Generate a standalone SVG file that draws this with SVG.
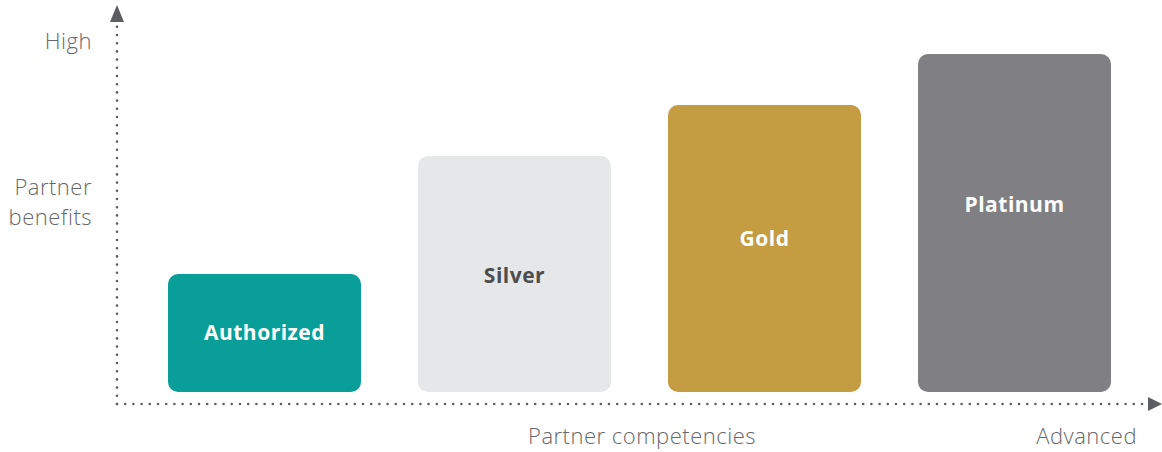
<svg xmlns="http://www.w3.org/2000/svg" width="1162" height="452" viewBox="0 0 1162 452">
<style>
.axis{fill:none;stroke:#5d5e61;stroke-width:2.6;stroke-linecap:round;stroke-dasharray:0 8.2}
.lbl{font-family:"Open Sans",Lato,sans-serif;font-weight:300;font-size:22px;letter-spacing:0.5px;fill:#67686b}
.name{font-family:"Open Sans",Lato,sans-serif;font-weight:700;font-size:21px;letter-spacing:0.5px;text-anchor:middle}
</style>
<g id="connectors">
<line class="axis" x1="117" y1="404" x2="117" y2="24"/>
<path d="M110,22 L117,5 L124,22 Z" fill="#5d5e61"/>
<line class="axis" x1="117" y1="404" x2="1146" y2="404"/>
<path d="M1148,397 L1162,404 L1148,411 Z" fill="#5d5e61"/>
</g>
<g id="labels">
<text class="lbl" x="92" y="49" text-anchor="end">High</text>
<text class="lbl" x="92" y="195" text-anchor="end">Partner</text>
<text class="lbl" x="92" y="225" text-anchor="end">benefits</text>
<text class="lbl" x="642" y="444" text-anchor="middle">Partner competencies</text>
<text class="lbl" x="1137" y="444" text-anchor="end">Advanced</text>
</g>
<g id="authorized">
<rect x="168" y="274" width="193" height="118" rx="10" fill="#0a9e98"/>
<text class="name" x="264.5" y="340" fill="#ffffff">Authorized</text>
</g>
<g id="silver">
<rect x="418" y="156" width="193" height="236" rx="10" fill="#e6e7e8"/>
<text class="name" x="514.5" y="283" fill="#4d4e50">Silver</text>
</g>
<g id="gold">
<rect x="668" y="105" width="193" height="287" rx="10" fill="#c49c42"/>
<text class="name" x="764.5" y="246" fill="#ffffff">Gold</text>
</g>
<g id="platinum">
<rect x="918" y="54" width="193" height="338" rx="10" fill="#808084"/>
<text class="name" x="1014.5" y="212" fill="#ffffff">Platinum</text>
</g>
</svg>
